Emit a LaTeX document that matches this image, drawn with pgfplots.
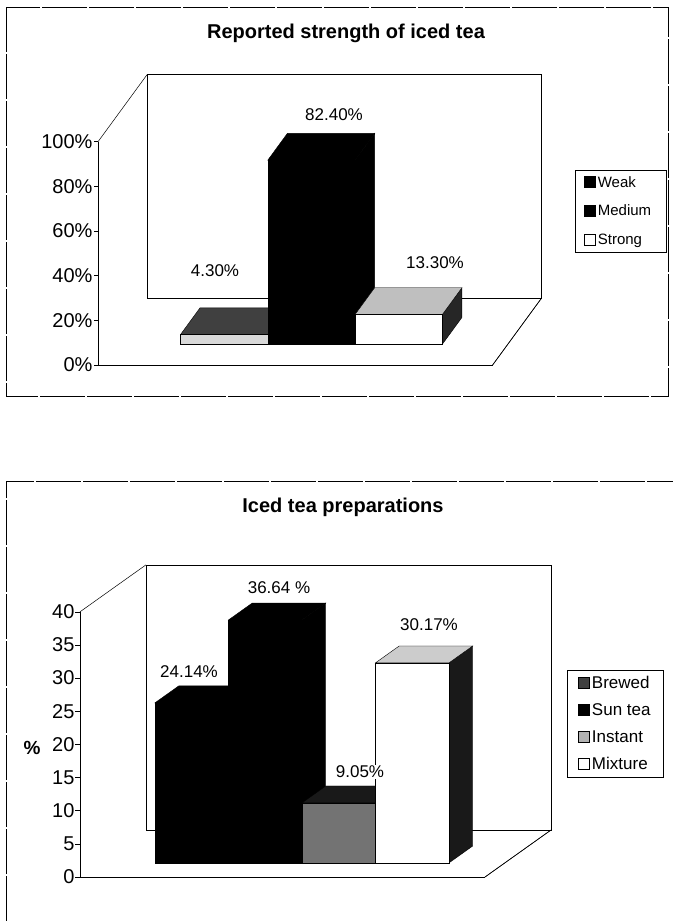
\documentclass[border=0pt]{standalone}
\usepackage{pgfplots}
\pgfplotsset{compat=1.18}
\usepackage{fontspec}
\setmainfont{Liberation Sans}
\newcommand{\fs}[1]{\fontsize{#1}{#1}\selectfont}
% bar box: #1 x0, #2 x1, #3 value, #4 front, #5 top, #6 side, #7 d0, #8 d1
\newcommand{\barbox}[8]{%
  \addplot3[fill=#6, draw=black, line width=0.4pt, forget plot] coordinates {(#2,#7,0) (#2,#8,0) (#2,#8,#3) (#2,#7,#3)} -- cycle;
  \addplot3[fill=#5, draw=black, line width=0.4pt, forget plot] coordinates {(#1,#7,#3) (#2,#7,#3) (#2,#8,#3) (#1,#8,#3)} -- cycle;
  \addplot3[fill=#4, draw=black, line width=0.4pt, forget plot] coordinates {(#1,#7,0) (#2,#7,0) (#2,#7,#3) (#1,#7,#3)} -- cycle;
}
\pgfplotsset{
  teachart/.style={
    axis lines=left, axis line style={-, line width=0.6pt},
    xtick=\empty, ytick=\empty,
    major tick length=0pt,
    /pgf/number format/assume math mode=true,
    tick label style={font=\fs{20}},
    z tick label style={anchor=east, xshift=-2pt},
    enlargelimits=false, clip=false, no markers,
    legend cell align=left,
    legend image code/.code={\filldraw[##1, draw=black, line width=0.7pt] (0pt,-5pt) rectangle (11pt,6pt);},
    legend style={draw=black, line width=0.5pt, inner ysep=4pt, anchor=north west},
  }
}
\begin{document}
\begin{tikzpicture}[x=1pt,y=1pt]
\useasboundingbox (0,0) rectangle (673,-921);
% frames
\draw[line width=0.5pt, dash pattern=on 45pt off 2pt] (6,-7) rectangle (668,-396);
\draw[line width=0.5pt, dash pattern=on 45pt off 2pt] (6,-921) -- (6,-481) -- (673,-481);
% titles
\node[font=\bfseries\fs{20}] at (346,-33) {Reported strength of iced tea};
\node[font=\bfseries\fs{20}] at (343,-507) {Iced tea preparations};

% ---------- top chart ----------
\begin{axis}[teachart,
  at={(121.6pt,-365pt)}, anchor=origin,
  x={(87.3pt,0pt)}, y={(49pt,67pt)}, z={(0pt,2.233pt)},
  xmin=-0.27, xmax=4.25, ymin=0, ymax=1, zmin=0, zmax=100,
  ztick={0,20,...,100},
  zticklabel={\pgfmathprintnumber{\tick}\%},
  legend style={at={(axis description cs:1.075,0.672)}, font=\fs{15}, row sep=12.5pt, inner xsep=9pt},
]
\addplot3[draw=black, line width=0.5pt, forget plot] coordinates {(-0.27,1,0) (4.25,1,0) (4.25,1,100) (-0.27,1,100)} -- cycle;
\addplot3[draw=black, line width=0.5pt, forget plot] coordinates {(-0.27,0,100) (-0.27,1,100)};
\addplot3[draw=black, line width=0.5pt, forget plot] coordinates {(4.25,0,0) (4.25,1,0)};
\pgfplotsinvokeforeach{0,20,...,100}{\draw[line width=0.5pt] (axis cs:-0.27,0,#1) -- ++(-4pt,0pt);}
\barbox{0.5}{1.5}{4.3}{black!15}{black!75}{black!80}{0.31}{0.71}
\barbox{1.5}{2.5}{82.4}{black}{black}{black}{0.31}{0.71}
\barbox{2.5}{3.5}{13.3}{white}{black!25}{black!85}{0.31}{0.71}
\addlegendimage{fill=black}\addlegendentry{Weak}
\addlegendimage{fill=black}\addlegendentry{Medium\hspace*{4pt}}
\addlegendimage{fill=white}\addlegendentry{Strong}
\end{axis}
\node[font=\fs{17}] at (215,-271) {4.30\%};
\node[font=\fs{17}] at (334,-115) {82.40\%};
\node[font=\fs{17}] at (435,-263) {13.30\%};

% ---------- bottom chart ----------
\begin{axis}[teachart,
  at={(98.4pt,-877pt)}, anchor=origin,
  x={(73.5pt,0pt)}, y={(66pt,47pt)}, z={(0pt,6.63pt)},
  xmin=-0.25, xmax=5.26, ymin=0, ymax=1, zmin=0, zmax=40,
  ztick={0,5,...,40},
  legend style={at={(axis description cs:1.034,0.663)}, font=\fs{17}, row sep=9.5pt, inner xsep=11pt},
]
\addplot3[draw=black, line width=0.5pt, forget plot] coordinates {(-0.25,1,0) (5.26,1,0) (5.26,1,40) (-0.25,1,40)} -- cycle;
\addplot3[draw=black, line width=0.5pt, forget plot] coordinates {(-0.25,0,40) (-0.25,1,40)};
\addplot3[draw=black, line width=0.5pt, forget plot] coordinates {(5.26,0,0) (5.26,1,0)};
\pgfplotsinvokeforeach{0,5,...,40}{\draw[line width=0.5pt] (axis cs:-0.25,0,#1) -- ++(-5pt,0pt);}
\barbox{0.5}{1.5}{24.14}{black}{black}{black}{0.30}{0.66}
\barbox{1.5}{2.5}{36.64}{black}{black}{black}{0.30}{0.66}
\barbox{2.5}{3.5}{9.05}{black!55}{black!90}{black}{0.30}{0.66}
\barbox{3.5}{4.5}{30.17}{white}{black!20}{black!90}{0.30}{0.66}
\addlegendimage{fill=black!75}\addlegendentry{Brewed}
\addlegendimage{fill=black}\addlegendentry{Sun tea}
\addlegendimage{fill=black!30}\addlegendentry{Instant}
\addlegendimage{fill=white}\addlegendentry{Mixture}
\end{axis}
\node[font=\bfseries\fs{19}] at (32,-748) {\%};
\node[font=\fs{17}] at (189,-672) {24.14\%};
\node[font=\fs{17}] at (279,-588) {36.64 \%};
\node[font=\fs{17}, fill=white, inner sep=1pt] at (360,-772) {9.05\%};
\node[font=\fs{17}] at (429,-625) {30.17\%};
\end{tikzpicture}
\end{document}
